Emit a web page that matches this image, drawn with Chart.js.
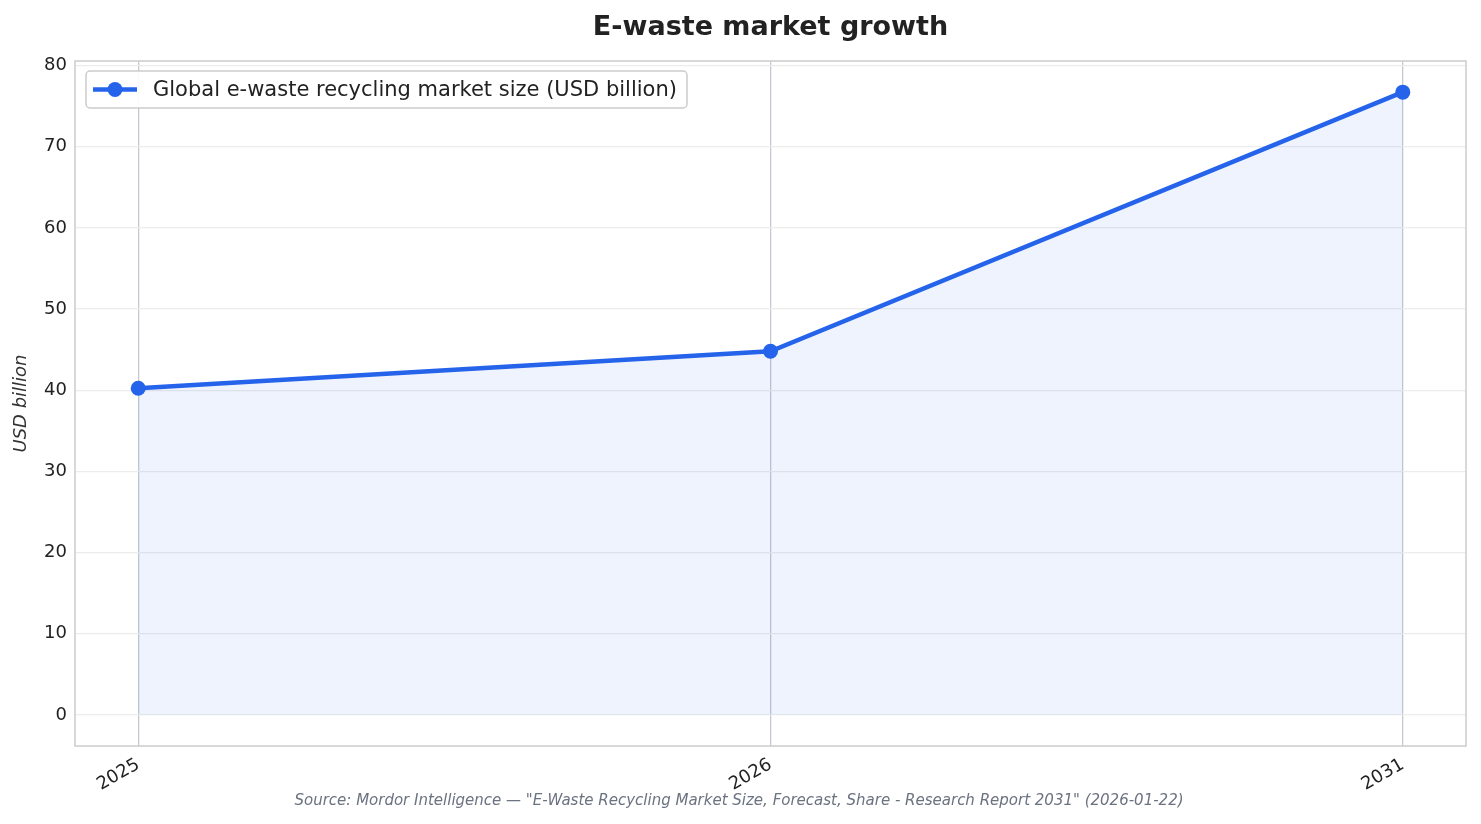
<!DOCTYPE html>
<html>
<head>
<meta charset="utf-8">
<script src="https://cdn.jsdelivr.net/npm/chart.js@4/dist/chart.umd.min.js"></script>
<style>
  html, body { margin: 0; padding: 0; background: #fff; }
  #wrap { width: 1481px; height: 824px; }
</style>
</head>
<body>
<div id="wrap"><canvas id="myChart" width="1481" height="824"></canvas></div>
<script>
// data
const years = ["2025", "2026", "2031"];
const marketSize = [40.24, 44.79, 76.72];
const seriesLabel = "Global e-waste recycling market size (USD billion)";
const yTicks = [0, 10, 20, 30, 40, 50, 60, 70, 80];

const chartTitle = "E-waste market growth";
const sourceNote = 'Source: Mordor Intelligence \u2014 "E-Waste Recycling Market Size, Forecast, Share - Research Report 2031" (2026-01-22)';

const blue = "#2563eb";
const FONT = "'DejaVu Sans', sans-serif";

// title, footnote, frame and in-plot legend
const decorations = {
  id: "decorations",
  beforeDraw(chart) {
    const c = chart.ctx;
    c.save();
    c.fillStyle = "#fff";
    c.fillRect(0, 0, chart.width, chart.height);
    c.restore();
  },
  afterDraw(chart) {
    const c = chart.ctx;
    const a = chart.chartArea;
    c.save();
    // frame
    c.strokeStyle = "#cccccc";
    c.lineWidth = 1.5;
    c.strokeRect(a.left, a.top, a.right - a.left, a.bottom - a.top);

    // title
    c.fillStyle = "#222";
    c.font = "bold 27px " + FONT;
    c.textAlign = "center";
    c.textBaseline = "middle";
    c.fillText(chartTitle, (a.left + a.right) / 2, 28);

    // footnote
    c.fillStyle = "#6b7280";
    c.font = "italic 15px " + FONT;
    c.fillText(sourceNote, 739, 801);

    // legend
    const lx = a.left + 11, ly = a.top + 10, lw = 601, lh = 37;
    c.beginPath();
    c.roundRect(lx, ly, lw, lh, 4);
    c.fillStyle = "rgba(255,255,255,0.9)";
    c.fill();
    c.strokeStyle = "#cccccc";
    c.lineWidth = 1.5;
    c.stroke();
    const my = ly + lh / 2;
    c.strokeStyle = blue;
    c.lineWidth = 4.5;
    c.beginPath();
    c.moveTo(lx + 7, my);
    c.lineTo(lx + 51, my);
    c.stroke();
    c.fillStyle = blue;
    c.beginPath();
    c.arc(lx + 29, my, 7.5, 0, Math.PI * 2);
    c.fill();
    c.fillStyle = "#222";
    c.font = "21px " + FONT;
    c.textAlign = "left";
    c.fillText(seriesLabel, lx + 67, my + 1);
    c.restore();
  }
};

const ctx = document.getElementById("myChart").getContext("2d");
new Chart(ctx, {
  type: "line",
  data: {
    datasets: [
      {
        label: seriesLabel,
        data: marketSize.map((v, i) => ({ x: i, y: v })),
        borderColor: blue,
        backgroundColor: "rgba(37, 99, 235, 0.08)",
        borderWidth: 4.5,
        pointRadius: 7.5,
        pointHoverRadius: 7.5,
        pointBackgroundColor: blue,
        pointBorderColor: blue,
        pointBorderWidth: 0,
        fill: "origin",
        tension: 0,
      },
    ],
  },
  options: {
    responsive: false,
    animation: false,
    layout: { padding: { top: 61, right: 15, bottom: 0, left: 0 } },
    plugins: {
      legend: { display: false },
      title: { display: false },
      tooltip: { enabled: false },
    },
    scales: {
      x: {
        type: "linear",
        min: -0.1,
        max: 2.1,
        afterBuildTicks(scale) {
          scale.ticks = years.map((y, i) => ({ value: i }));
        },
        afterFit(scale) { scale.height = 78; },
        ticks: {
          callback: (v) => years[v],
          color: "#222",
          font: { family: FONT, size: 18 },
          minRotation: 30,
          maxRotation: 30,
          padding: 8,
        },
        grid: { color: "#c5c9d1", lineWidth: 1.3, drawTicks: false },
        border: { display: false },
      },
      y: {
        min: -3.84,
        max: 80.56,
        afterBuildTicks(scale) {
          scale.ticks = yTicks.map((v) => ({ value: v }));
        },
        afterFit(scale) { scale.width = 75; },
        title: {
          display: true,
          text: "USD billion",
          color: "#333",
          font: { family: FONT, size: 18, style: "italic" },
          padding: { top: 11, bottom: 0 },
        },
        ticks: {
          color: "#222",
          font: { family: FONT, size: 18 },
          padding: 8,
        },
        grid: { color: "#ececec", lineWidth: 1.3, drawTicks: false },
        border: { display: false },
      },
    },
  },
  plugins: [decorations],
});
</script>
</body>
</html>
